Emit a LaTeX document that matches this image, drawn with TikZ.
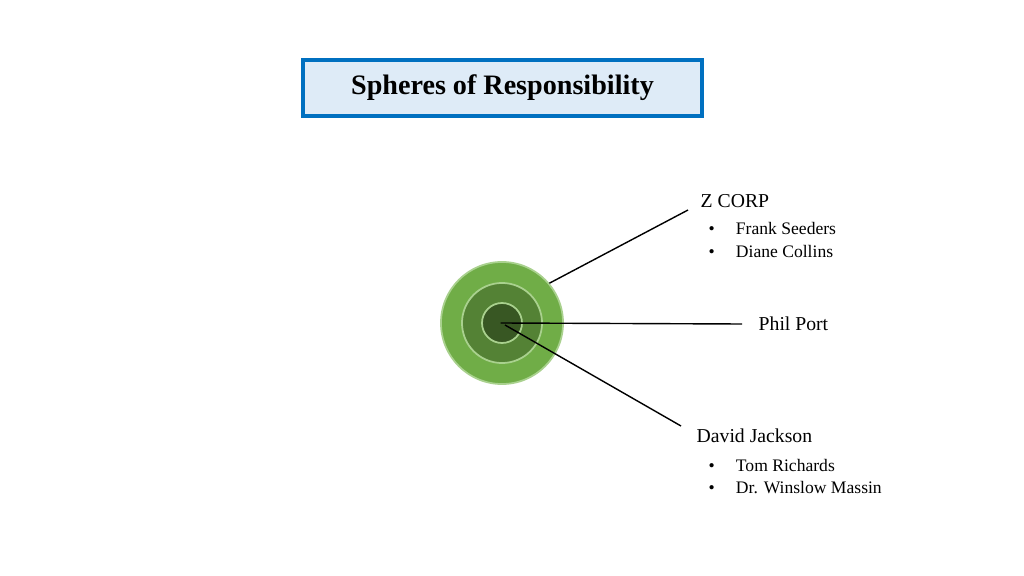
\documentclass[tikz,border=0pt]{standalone}
\usepackage{fontspec}
\setmainfont{Liberation Serif}
\definecolor{titlefill}{RGB}{222,235,247}
\definecolor{titleline}{RGB}{0,112,192}
\definecolor{ringA}{RGB}{112,173,71}
\definecolor{ringB}{RGB}{84,130,53}
\definecolor{ringC}{RGB}{56,87,35}
\definecolor{ringedge}{RGB}{169,209,142}
\tikzset{
  ring/.style={circle, draw=ringedge, line width=0.5pt, inner sep=0pt},
  lbl/.style={font=\fontsize{5.6}{6.5}\selectfont, inner sep=0pt, anchor=west},
  sub/.style={font=\fontsize{5}{6}\selectfont, inner sep=0pt, anchor=west}
}
\begin{document}
\begin{tikzpicture}[x=0.01cm, y=-0.01cm]
  \useasboundingbox (0,0) rectangle (1024,576);

  \node[draw=titleline, fill=titlefill, line width=1pt, minimum width=3.99cm, minimum height=0.56cm,
        font=\fontsize{8}{9}\selectfont\bfseries] (title) at (502.5,88) {Spheres of Responsibility};

  % spheres
  \node[ring, fill=ringA, minimum size=1.22cm] (outer) at (502,323) {};
  \node[ring, fill=ringB, minimum size=0.80cm] (middle) at (502,323) {};
  \node[ring, fill=ringC, minimum size=0.40cm] (inner) at (502,323) {};

  % labels
  \node[lbl] (zcorp) at (700,201) {Z CORP};
  \node[sub] (frank) at (708,228) {\textbullet\hspace{1.2em}Frank Seeders};
  \node[sub] (diane) at (708,251) {\textbullet\hspace{1.2em}Diane Collins};
  \node[lbl] (phil) at (758,324) {Phil Port};
  \node[lbl] (david) at (696,436) {David Jackson};
  \node[sub] (tom) at (708,465) {\textbullet\hspace{1.2em}Tom Richards};
  \node[sub] (winslow) at (708,488) {\textbullet\hspace{1.2em}Dr. Winslow Massin};

  \coordinate (zend) at (688,210);
  \coordinate (pend) at (742,324);
  \coordinate (dend) at (681,426);

  \draw[line width=0.4pt] (outer.40) -- (zend);
  \draw[line width=0.4pt] ([xshift=-12]middle.east) -- (pend);
  \draw[line width=0.4pt] (inner.center) ++(3,2) -- (dend);
\end{tikzpicture}
\end{document}
